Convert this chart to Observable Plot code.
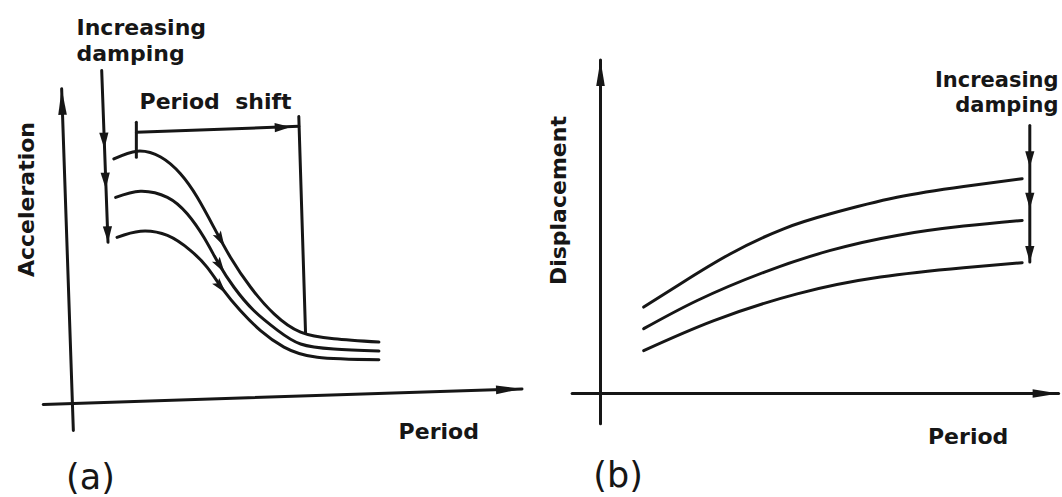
<!DOCTYPE html>
<html><head><meta charset="utf-8">
<script src="https://cdn.jsdelivr.net/npm/d3@7"></script>
<script src="https://cdn.jsdelivr.net/npm/@observablehq/plot@0.6"></script>
<style>
html,body{margin:0;padding:0;background:#fff;}
#wrap{display:flex;width:1062px;height:497px;overflow:hidden;}
#wrap svg{overflow:visible;}
</style></head><body><div id="wrap"></div>
<script>
// ---------- DATA (schematic units: period on x, response on y) ----------
// (a) Acceleration spectra for three damping levels
const accelLowDamping  = [[1.03,7.89],[1.55,8.14],[2.07,7.95],[2.51,7.41],[2.88,6.66],[3.25,5.69],[3.62,4.72],[4.07,3.75],[4.59,2.89],[5.18,2.30],[5.92,2.09],[6.92,1.98]];
const accelMidDamping  = [[1.07,6.65],[1.62,6.85],[2.22,6.65],[2.66,6.12],[3.03,5.36],[3.36,4.51],[3.70,3.75],[4.14,3.00],[4.67,2.36],[5.18,1.92],[5.92,1.76],[6.92,1.69]];
const accelHighDamping = [[1.10,5.36],[1.62,5.56],[2.22,5.42],[2.73,4.94],[3.10,4.40],[3.47,3.65],[3.84,3.00],[4.29,2.35],[4.81,1.82],[5.55,1.49],[6.92,1.41]];
const accelFlowArrows  = [{x:3.49,y:5.06,angle:151},{x:3.49,y:4.22,angle:147},{x:3.52,y:3.56,angle:140}];
const accelAxisY = [[0.13,-0.87],[-0.13,10.15]];
const accelAxisX = [[-0.54,-0.03],[10.10,0.47]];
const accelAxisTips = [{x:-0.13,y:10.15,angle:-2},{x:10.10,y:0.47,angle:88}];
const accelDampingLine = [[0.76,10.74],[0.90,5.20]];
const accelDampingTips = [{x:0.82,y:8.22},{x:0.85,y:6.93},{x:0.90,y:5.20}];
const periodShiftTick = [[1.53,9.07],[1.53,7.94]];
const periodShiftSpan = [[1.53,8.75],[5.14,8.94]];
const periodShiftDrop = [[5.14,9.26],[5.29,2.27]];
const periodShiftTip  = [{x:4.96,y:8.92,angle:88}];

// (b) Displacement spectra for three damping levels
const dispLowDamping  = [[0.96,2.88],[1.78,3.66],[2.89,4.66],[4.07,5.49],[5.11,5.99],[6.59,6.54],[8.07,6.90],[9.37,7.16]];
const dispMidDamping  = [[0.96,2.16],[2.15,3.10],[3.63,4.04],[5.11,4.77],[6.59,5.27],[8.07,5.58],[9.37,5.77]];
const dispHighDamping = [[0.96,1.43],[2.52,2.43],[4.37,3.32],[6.22,3.88],[8.07,4.19],[9.37,4.36]];
const dispAxisY = [[0,-1.01],[0,11.12]];
const dispAxisX = [[-0.63,0],[10.18,0]];
const dispAxisTips = [{x:0,y:11.12,angle:0},{x:10.18,y:0,angle:90}];
const dispDampingLine = [[9.54,8.93],[9.54,4.38]];
const dispDampingTips = [{x:9.54,y:7.54},{x:9.54,y:6.16},{x:9.54,y:4.38}];

// Text labels
const accelNote  = [{t:"Increasing\ndamping", x:0.20, y:11.73}];
const accelShift = [{t:"Period  shift", x:3.29, y:9.74}];
const accelYLabel = [{t:"Acceleration", x:-0.90, y:6.58}];
const accelXLabel = [{t:"Period", x:8.25, y:-0.91}];
const accelPanel  = [{t:"(a)", x:0.51, y:-2.40}];
const dispNote   = [{t:"Increasing\ndamping", x:10.18, y:10.06}];
const dispYLabel = [{t:"Displacement", x:-0.93, y:6.43}];
const dispXLabel = [{t:"Period", x:8.17, y:-1.44}];
const dispPanel  = [{t:"(b)", x:0.39, y:-2.75}];

// ---------- DRAWING ----------
const ink = "#161616";
const wedge = (L, w, back = 1) => ({draw(ctx){
  ctx.moveTo(0, 0); ctx.lineTo(w, L); ctx.lineTo(0, L * back); ctx.lineTo(-w, L); ctx.closePath();
}});
const axisHead = wedge(26, 4.3);
const lineHead = wedge(16, 4.6);
const flowHead = wedge(16, 4.6, 0.8);
const font = {fontFamily:"DejaVu Sans, sans-serif", fontWeight:"bold", fill: ink, fontSize: 22};
const px = d => d[0], py = d => d[1];
const seg = data => Plot.line(data, {x:px, y:py, stroke:ink, strokeWidth:3});
const curve = data => Plot.line(data, {x:px, y:py, curve:"natural", stroke:ink, strokeWidth:3, strokeLinecap:"round"});
const heads = (data, symbol, angle) => Plot.dot(data, {x:"x", y:"y", r:4, rotate: angle ?? "angle", symbol, fill: ink, stroke: "none"});
const label = (data, opts = {}) => Plot.text(data, {x:"x", y:"y", text:"t", ...font, ...opts});

const common = {width:531, height:497, marginTop:93,
  x:{domain:[0,10], axis:null}, y:{domain:[0,10], axis:null},
  style:{background:"transparent", overflow:"visible"}};

const left = Plot.plot({...common, marginLeft:67, marginRight:14, marginBottom:94, marks:[
  seg(accelAxisY), seg(accelAxisX), heads(accelAxisTips, axisHead),
  seg(accelDampingLine), heads(accelDampingTips, lineHead, 178),
  curve(accelLowDamping), curve(accelMidDamping), curve(accelHighDamping),
  heads(accelFlowArrows, flowHead),
  seg(periodShiftTick), seg(periodShiftSpan), seg(periodShiftDrop), heads(periodShiftTip, lineHead),
  label(accelNote, {textAnchor:"start", lineHeight:1.18}),
  label(accelShift),
  label(accelYLabel, {rotate:-90}),
  label(accelXLabel),
  label(accelPanel, {fontSize:35, fontWeight:"normal"})
]});

const right = Plot.plot({...common, marginLeft:69, marginRight:12, marginBottom:104, marks:[
  seg(dispAxisY), seg(dispAxisX), heads(dispAxisTips, axisHead),
  seg(dispDampingLine), heads(dispDampingTips, lineHead, 180),
  curve(dispLowDamping), curve(dispMidDamping), curve(dispHighDamping),
  label(dispNote, {textAnchor:"end", fontSize:21, lineHeight:1.18}),
  label(dispYLabel, {rotate:-90}),
  label(dispXLabel),
  label(dispPanel, {fontSize:35, fontWeight:"normal"})
]});

document.getElementById("wrap").append(left, right);
</script></body></html>
